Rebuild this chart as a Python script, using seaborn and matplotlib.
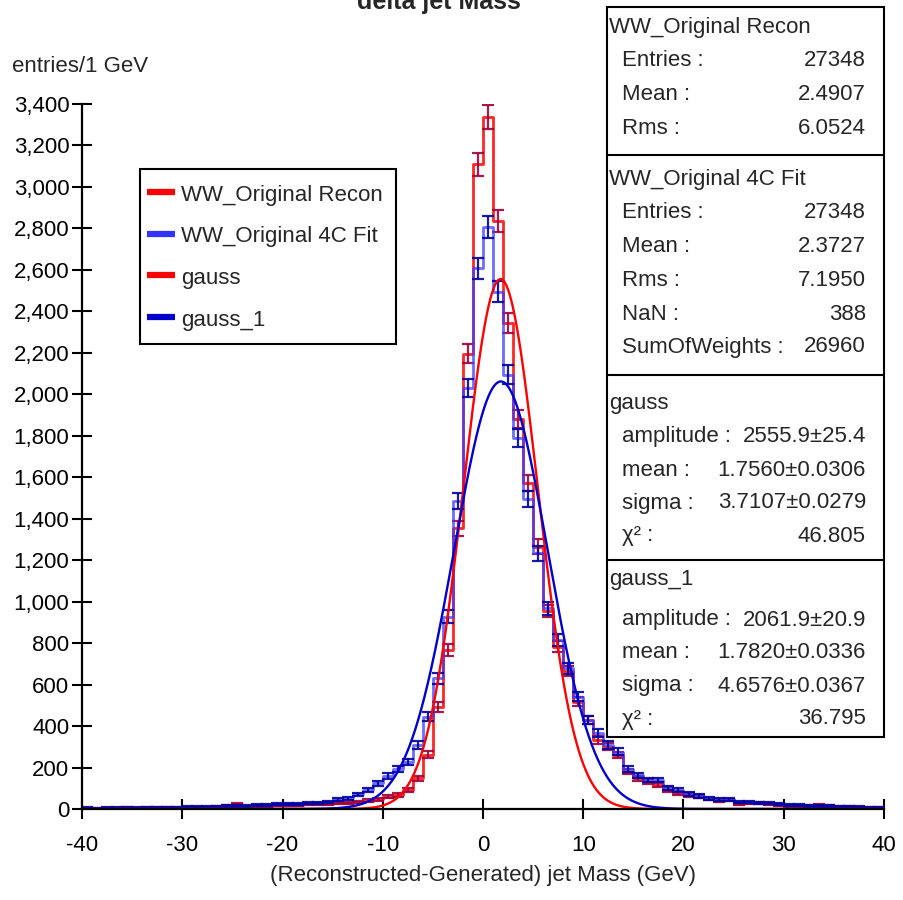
import numpy as np
import pandas as pd
import matplotlib
matplotlib.use("Agg")
import matplotlib.pyplot as plt
from matplotlib.lines import Line2D
from matplotlib.patches import Rectangle
from matplotlib.ticker import FuncFormatter
import seaborn as sns

# ---- binned data: 1 GeV bins from -40 to 40 GeV ----
bin_lo, bin_hi, bin_w = -40, 40, 1

recon_counts = [
    3, 2, 4, 3, 5, 4, 5, 6, 5, 7,                       # -40 .. -31
    7, 8, 8, 10, 14, 22, 12, 14, 16, 18,                # -30 .. -21
    18, 20, 22, 24, 26, 27, 30, 35, 40, 47,             # -20 .. -11
    59, 68, 90, 148, 262, 492, 767, 1354, 2196, 3110,   # -10 .. -1
    3336, 2836, 2345, 1879, 1571, 1265, 955, 783, 665, 518,  # 0 .. 9
    429, 333, 300, 260, 180, 148, 132, 116, 94, 76,     # 10 .. 19
    68, 59, 48, 40, 43, 22, 27, 27, 22, 20,             # 20 .. 29
    16, 14, 14, 18, 14, 12, 10, 9, 8, 7,                # 30 .. 39
]

fit_counts = [
    5, 4, 6, 5, 7, 6, 8, 7, 9, 8,                       # -40 .. -31
    10, 11, 12, 12, 14, 16, 15, 18, 20, 22,             # -30 .. -21
    24, 26, 30, 30, 35, 47, 52, 71, 92, 124,            # -20 .. -11
    159, 193, 228, 309, 445, 630, 927, 1487, 2031, 2608,  # -10 .. -1
    2808, 2495, 2094, 1789, 1494, 1233, 968, 815, 678, 542,  # 0 .. 9
    429, 365, 309, 276, 192, 162, 140, 140, 102, 90,    # 10 .. 19
    72, 63, 52, 47, 47, 35, 35, 30, 27, 22,             # 20 .. 29
    20, 20, 16, 14, 14, 12, 11, 10, 9, 8,               # 30 .. 39
]

# gaussian fit results
gauss_amp, gauss_mean, gauss_sigma = 2555.9, 1.7560, 3.7107
gauss1_amp, gauss1_mean, gauss1_sigma = 2061.9, 1.7820, 4.6576

y_ticks = list(range(0, 3401, 200))
x_ticks = list(range(-40, 41, 10))

legend_labels = ["WW_Original Recon", "WW_Original 4C Fit", "gauss", "gauss_1"]
legend_colors = ["#ff0000", "#3333ff", "#ff0000", "#0000cc"]

# ---- styling ----
sns.set_theme(style="white")
plt.rcParams['font.family'] = ['Liberation Sans', 'DejaVu Sans']
plt.rcParams['axes.unicode_minus'] = False

W, H = 904, 900
fig = plt.figure(figsize=(W / 100, H / 100), dpi=100)
ax = fig.add_axes([82 / W, 1 - 809 / H, (884 - 82) / W, (809 - 104) / H])


def fx(px):
    return px / W


def fy(py):
    return 1 - py / H


bin_edges = np.arange(bin_lo, bin_hi + bin_w, bin_w)
centers = 0.5 * (bin_edges[:-1] + bin_edges[1:])
recon_df = pd.DataFrame({"x": centers, "count": np.asarray(recon_counts, dtype=float)})
fit_df = pd.DataFrame({"x": centers, "count": np.asarray(fit_counts, dtype=float)})

RED_STEP, RED_ERR = "#ff1010", "#a0003c"
BLUE_STEP, BLUE_ERR = "#3c3cff", "#0000a0"

sns.histplot(data=recon_df, x="x", weights="count", binwidth=bin_w,
             binrange=(bin_lo, bin_hi), element="step", fill=False, color=RED_STEP,
             linewidth=2.0, alpha=0.9, ax=ax)
ax.errorbar(centers, recon_counts, yerr=np.sqrt(recon_counts), fmt="none",
            ecolor=RED_ERR, elinewidth=1.6, capsize=4.6, capthick=1.6, alpha=0.9)

sns.histplot(data=fit_df, x="x", weights="count", binwidth=bin_w,
             binrange=(bin_lo, bin_hi), element="step", fill=False, color=BLUE_STEP,
             linewidth=2.0, alpha=0.75, ax=ax)
ax.errorbar(centers, fit_counts, yerr=np.sqrt(fit_counts), fmt="none",
            ecolor=BLUE_ERR, elinewidth=1.6, capsize=4.6, capthick=1.6, alpha=0.9)

xs = np.linspace(bin_lo, bin_hi, 1601)
g0 = gauss_amp * np.exp(-0.5 * ((xs - gauss_mean) / gauss_sigma) ** 2)
g1 = gauss1_amp * np.exp(-0.5 * ((xs - gauss1_mean) / gauss1_sigma) ** 2)
sns.lineplot(x=xs, y=g0, color="#ff0000", linewidth=1.7, ax=ax)
sns.lineplot(x=xs, y=g1, color="#0000cc", linewidth=1.7, ax=ax)

ax.set_xlim(bin_lo, bin_hi)
ax.set_ylim(0, 3400)
ax.set_xticks(x_ticks)
ax.set_yticks(y_ticks)
ax.yaxis.set_major_formatter(FuncFormatter(lambda v, p: f"{int(v):,}"))
ax.xaxis.set_major_formatter(FuncFormatter(lambda v, p: f"{int(v)}"))
ax.set_xlabel("")
ax.set_ylabel("")
for side in ("top", "right"):
    ax.spines[side].set_visible(False)
for side in ("left", "bottom"):
    ax.spines[side].set_visible(True)
    ax.spines[side].set_color("black")
    ax.spines[side].set_linewidth(1.6)
ax.tick_params(axis="both", direction="inout", length=14, width=1.5, colors="black",
               labelsize=16, left=True, bottom=True)
ax.tick_params(axis="x", pad=11.5)
ax.tick_params(axis="y", pad=2)
ax.grid(False)
ax.set_facecolor("white")

# legend box with short thick line swatches
fig.add_artist(Rectangle((fx(140), fy(344)), (396 - 140) / W, (344 - 169) / H,
                         transform=fig.transFigure, facecolor="white",
                         edgecolor="black", linewidth=1.5, zorder=5))
for i, (lab, col) in enumerate(zip(legend_labels, legend_colors)):
    yc = 195 + i * 41.7
    fig.add_artist(Line2D([fx(147), fx(175)], [fy(yc - 3), fy(yc - 3)],
                          transform=fig.transFigure, color=col, linewidth=4.5,
                          solid_capstyle="butt", zorder=6))
    fig.text(fx(181), fy(yc), lab, ha="left", va="center", fontsize=16, zorder=7)

# axis texts
fig.text(439 / W, 1 - 9 / H, "delta jet Mass", ha="center", va="baseline",
         fontsize=18, fontweight="bold")
fig.text(12 / W, 1 - 67 / H, "entries/1 GeV", ha="left", va="center", fontsize=16)
fig.text(483 / W, 1 - 875 / H, "(Reconstructed-Generated) jet Mass (GeV)",
         ha="center", va="center", fontsize=16)

# statistics panel
box_left, box_right = 607, 884
seps = [7, 155, 375, 560, 737]
fig.add_artist(Rectangle((fx(box_left), fy(seps[-1])), (box_right - box_left) / W,
                         (seps[-1] - seps[0]) / H, transform=fig.transFigure,
                         facecolor="white", edgecolor="black", linewidth=1.5, zorder=5))
for s in seps[1:-1]:
    fig.add_artist(Line2D([fx(box_left), fx(box_right)], [fy(s), fy(s)],
                          transform=fig.transFigure, color="black", linewidth=1.5, zorder=6))

stats_blocks = [
    ("WW_Original Recon", 27,
     [("Entries :", "27348", 61), ("Mean :", "2.4907", 95), ("Rms :", "6.0524", 128)]),
    ("WW_Original 4C Fit", 180,
     [("Entries :", "27348", 213), ("Mean :", "2.3727", 246), ("Rms :", "7.1950", 280),
      ("NaN :", "388", 314), ("SumOfWeights :", "26960", 347)]),
    ("gauss", 404,
     [("amplitude :", "2555.9±25.4", 437), ("mean :", "1.7560±0.0306", 470),
      ("sigma :", "3.7107±0.0279", 503), ("χ² :", "46.805", 536)]),
    ("gauss_1", 580,
     [("amplitude :", "2061.9±20.9", 620), ("mean :", "1.7820±0.0336", 653),
      ("sigma :", "4.6576±0.0367", 686), ("χ² :", "36.795", 719)]),
]
for title, ty, rows in stats_blocks:
    fig.text(fx(609), fy(ty), title, ha="left", va="center", fontsize=16, zorder=7)
    for name, val, ry in rows:
        fig.text(fx(622), fy(ry), name, ha="left", va="center", fontsize=16, zorder=7)
        fig.text(fx(866), fy(ry), val, ha="right", va="center", fontsize=16, zorder=7)

fig.savefig("out.png", dpi=100, facecolor="white")
